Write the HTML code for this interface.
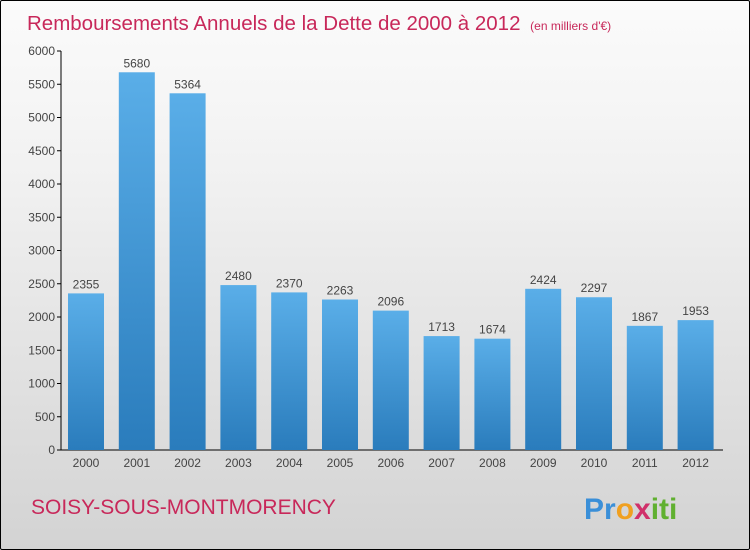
<!DOCTYPE html>
<html><head><meta charset="utf-8"><style>
body{margin:0}
#wrap{width:748px;height:548px;border:1px solid #000;position:relative;background:linear-gradient(#fbfbfb,#f2f2f2 30%,#d3d3d3);font-family:"Liberation Sans",sans-serif;overflow:hidden;border-radius:2px}
</style></head><body>
<div id="wrap">
<svg width="748" height="548">
<defs><linearGradient id="bg" x1="0" y1="0" x2="0" y2="1"><stop offset="0" stop-color="#5aaee8"/><stop offset="1" stop-color="#2a7cbc"/></linearGradient></defs>
<text x="26" y="29" font-size="20.5" fill="#c8285a">Remboursements Annuels de la Dette de 2000 à 2012 <tspan font-size="12" dx="4">(en milliers d'€)</tspan></text>
<g id="axes"></g>
<g id="bars"></g>
<text x="30" y="513" font-size="21" fill="#c8285a">SOISY-SOUS-MONTMORENCY</text>
<text x="583" y="518" font-size="30" font-weight="bold"><tspan fill="#3a8fd8">Pr</tspan><tspan fill="#f0a020">o</tspan><tspan fill="#d0306a">x</tspan><tspan fill="#60b030">iti</tspan></text>
</svg></div>
<script>
const years=["2000","2001","2002","2003","2004","2005","2006","2007","2008","2009","2010","2011","2012"];
const values=[2355,5680,5364,2480,2370,2263,2096,1713,1674,2424,2297,1867,1953];
const ticks=[0,500,1000,1500,2000,2500,3000,3500,4000,4500,5000,5500,6000];
const NS="http://www.w3.org/2000/svg";
const y=v=>449-v*399/6000, x=i=>85+i*50.8;
function mk(t,a,p,txt){const e=document.createElementNS(NS,t);for(const k in a)e.setAttribute(k,a[k]);if(txt!=null)e.textContent=txt;p.appendChild(e);return e;}
const ax=document.getElementById('axes'),bg=document.getElementById('bars');
let l=mk('line',{x1:60,y1:50,x2:60,y2:449,stroke:'#000'},ax);


l=mk('line',{x1:60,y1:449,x2:722,y2:449,stroke:'#000'},ax);


ticks.forEach(t=>{mk('line',{x1:56,x2:60,y1:y(t),y2:y(t),stroke:'#000'},ax);
const e=mk('text',{x:54,y:y(t)+4,'text-anchor':'end','font-size':12,fill:'#444'},ax,t);

});
values.forEach((v,i)=>{const r=mk('rect',{x:x(i)-18,y:y(v),width:36,height:449-y(v),fill:'url(#bg)'},bg);


const t=mk('text',{x:x(i),y:y(v)-5,'text-anchor':'middle','font-size':12,fill:'#444'},bg,v);


const xl=mk('text',{x:x(i),y:466,'text-anchor':'middle','font-size':12,fill:'#444'},bg,years[i]);

});
</script>
</body></html>
